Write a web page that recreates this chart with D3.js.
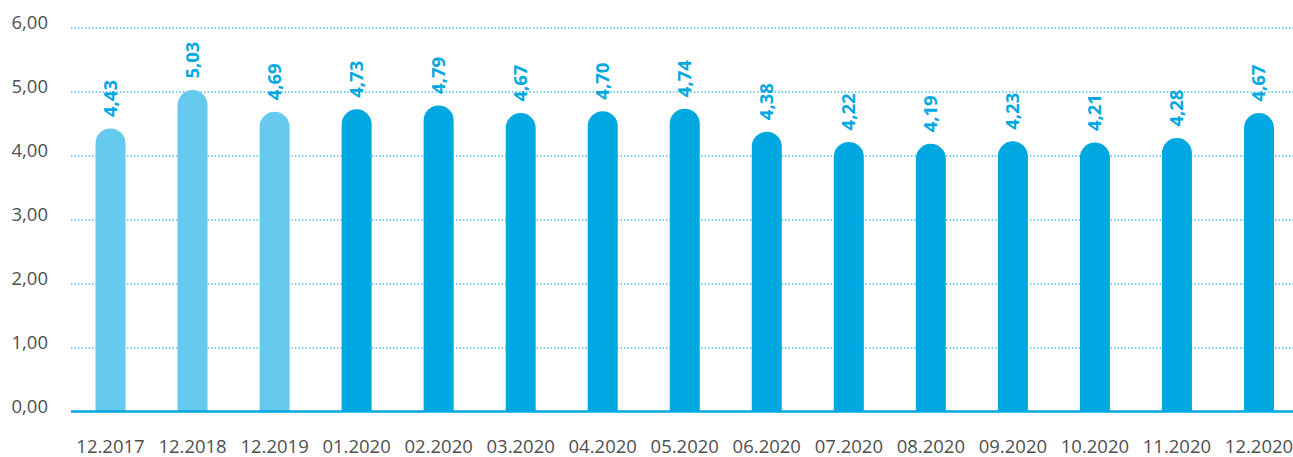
<!DOCTYPE html>
<html><head><meta charset="utf-8">
<script src="https://cdn.jsdelivr.net/npm/d3@7"></script>
<style>body{margin:0;background:#fff}svg{display:block}</style>
</head><body>
<svg id="c" width="1293" height="457"></svg>
<script>
const categories = ["12.2017","12.2018","12.2019","01.2020","02.2020","03.2020","04.2020","05.2020","06.2020","07.2020","08.2020","09.2020","10.2020","11.2020","12.2020"];
const values = [4.43,5.03,4.69,4.73,4.79,4.67,4.70,4.74,4.38,4.22,4.19,4.23,4.21,4.28,4.67];
const highlight = [true,true,true,false,false,false,false,false,false,false,false,false,false,false,false];
const yTicks = [0,1,2,3,4,5,6];

const svg = d3.select("#c");
const font = "'Open Sans', sans-serif";
const x = d3.scaleBand().domain(categories).range([69.5, 1300]).padding(0);
const y = d3.scaleLinear().domain([0,6]).range([412, 28]);
const fmt = v => v.toFixed(2).replace(".", ",");
const bw = 30, r = 15;

// gridlines
svg.append("g").selectAll("line").data(yTicks.filter(d=>d>0)).join("line")
  .attr("x1", 71).attr("x2", 1293).attr("y1", d=>y(d)).attr("y2", d=>y(d))
  .attr("stroke", "#4fc0ea").attr("stroke-width", 1.5).attr("stroke-dasharray", "1.5,2");

// y labels
svg.append("g").selectAll("text").data(yTicks).join("text")
  .attr("x", 48).attr("y", d=>y(d)+1).attr("text-anchor","end")
  .attr("font-family", font).attr("font-size", 18.5).attr("fill", "#505050")
  .text(d=>fmt(d));

// bars
function barPath(cx, top, bottom){
  const x0 = cx - bw/2, x1 = cx + bw/2;
  return `M${x0},${bottom}L${x0},${top+r}A${r},${r} 0 0 1 ${x1},${top+r}L${x1},${bottom}Z`;
}
svg.append("g").selectAll("path").data(categories).join("path")
  .attr("d", (c,i)=>barPath(x(c)+x.bandwidth()/2, y(values[i]), y(0)))
  .attr("fill", (c,i)=> highlight[i] ? "#66caee" : "#00a8e2");

// baseline
svg.append("line").attr("x1",71).attr("x2",1293).attr("y1",y(0)-0.5).attr("y2",y(0)-0.5)
  .attr("stroke","#00a8e2").attr("stroke-width",2.5);

// value labels
svg.append("g").selectAll("text").data(categories).join("text")
  .attr("transform", (c,i)=>`translate(${x(c)+x.bandwidth()/2+6},${y(values[i])-11.5}) rotate(-90)`)
  .attr("font-family", font).attr("font-size", 18.5).attr("font-weight", "bold").attr("fill", "#00a8e2")
  .text((c,i)=>fmt(values[i]));

// x labels
svg.append("g").selectAll("text").data(categories).join("text")
  .attr("x", c=>x(c)+x.bandwidth()/2).attr("y", 453).attr("text-anchor","middle")
  .attr("font-family", font).attr("font-size", 18.5).attr("fill", "#505050")
  .text(c=>c);
</script>
</body></html>
